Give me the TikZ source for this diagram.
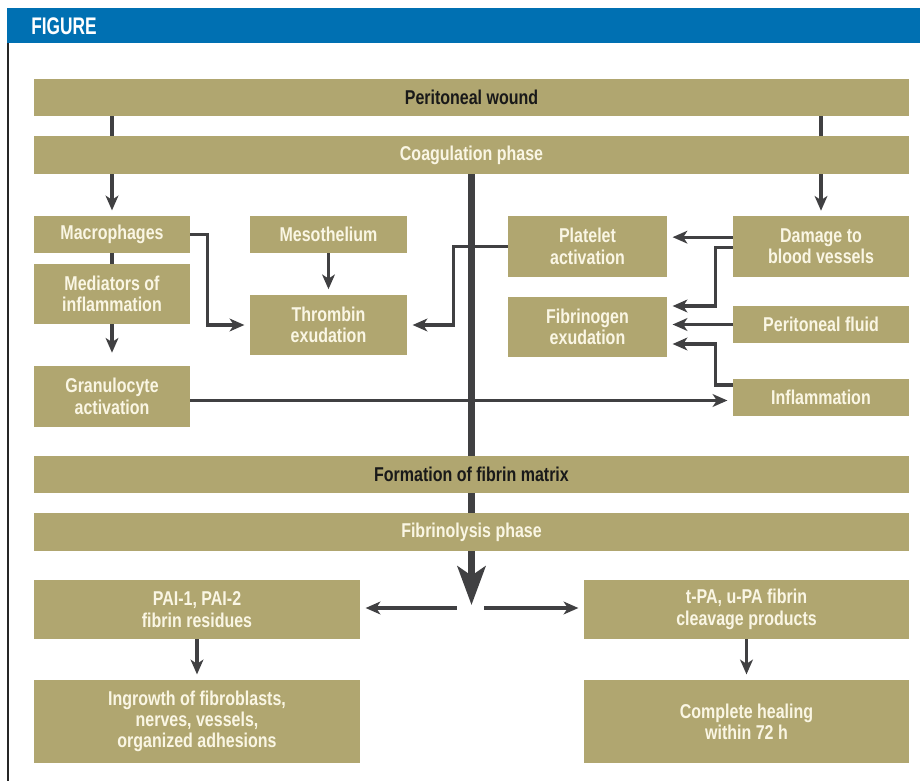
\documentclass[tikz,border=0pt]{standalone}
\usepackage{fontspec}
\setmainfont{Liberation Sans}[FakeStretch=0.8]
\newfontfamily\headfont{Liberation Sans}[FakeStretch=0.72]
\usetikzlibrary{arrows.meta, positioning}
\usepackage{xcolor}
\definecolor{tan}{RGB}{176,166,112}
\definecolor{cream}{RGB}{250,246,228}
\definecolor{arr}{RGB}{64,64,66}
\definecolor{banner}{RGB}{0,112,178}
\pgfdeclarelayer{background}
\pgfsetlayers{background,main}

\begin{document}
\begin{tikzpicture}[x=0.75pt, y=-0.75pt,
        bar/.style={rectangle, fill=tan, text=cream, minimum width=656.25pt, minimum height=28pt, inner sep=0pt, font=\fontsize{15}{16}\selectfont\bfseries},
        darkbar/.style={bar, text=black!90},
        box/.style={rectangle, fill=tan, text=cream, inner sep=0pt, align=center, font=\fontsize{15}{16}\selectfont\bfseries},
        one/.style={box, minimum height=27.75pt},
        two/.style={box, minimum height=45.25pt},
        three/.style={box, minimum height=62.25pt},
        arrow/.style={-{Stealth[length=11pt, width=9.5pt, inset=3pt]}, line width=2.3pt, color=arr, shorten >=4pt},
        link/.style={line width=2.3pt, color=arr},
        trunk/.style={-{Stealth[length=29pt, width=21pt, inset=7pt]}, line width=5pt, color=arr}
    ]
        % Page and banner
        \useasboundingbox (0,0) rectangle (920,781);
        \fill[banner] (7,8) rectangle (920,43);
        \node[anchor=west, inner sep=0pt, text=white, font=\fontsize{18}{20}\selectfont\headfont\bfseries] (title) at (31,26) {FIGURE};
        \draw[line width=1.5pt, black!85] (8,43) -- (8,781);

        % Phases
        \node[darkbar] (wound) at (471.5, 97.5) {Peritoneal wound};
        \node[bar] (coag) at (471.5, 155) {Coagulation phase};

        % Left column
        \node[one, minimum width=117pt] (macro) at (112, 234.5) {Macrophages};
        \node[two, minimum width=117pt] (medi) at (112, 294) {Mediators of\\inflammation};
        \node[two, minimum width=117pt] (gran) at (112, 396.5) {Granulocyte\\activation};

        % Thrombin
        \node[one, minimum width=117.75pt] (meso) at (328.5, 234.5) {Mesothelium};
        \node[two, minimum width=117.75pt] (thromb) at (328.5, 325) {Thrombin\\exudation};

        % Platelets and fibrinogen
        \node[two, minimum width=119.25pt] (plat) at (587.5, 246.5) {Platelet\\activation};
        \node[two, minimum width=119.25pt] (fibr) at (587.5, 327) {Fibrinogen\\exudation};

        % Right column
        \node[two, minimum width=132pt] (dmg) at (821, 246.5) {Damage to\\blood vessels};
        \node[one, minimum width=132pt] (fluid) at (821, 324.5) {Peritoneal fluid};
        \node[one, minimum width=132pt] (infl) at (821, 397) {Inflammation};

        % Fibrin matrix and fibrinolysis
        \node[darkbar] (matrix) at (471.5, 474.5) {Formation of fibrin matrix};
        \node[bar] (lysis) at (471.5, 532) {Fibrinolysis phase};

        % Outcomes
        \node[two, minimum width=244.5pt, minimum height=44.25pt] (pai) at (197, 609.5) {PAI-1, PAI-2\\fibrin residues};
        \node[three, minimum width=244.5pt] (ingr) at (197, 721.5) {Ingrowth of fibroblasts,\\nerves, vessels,\\organized adhesions};
        \node[two, minimum width=243.75pt, minimum height=44.25pt] (tpa) at (746.5, 609.5) {t-PA, u-PA fibrin\\cleavage products};
        \node[three, minimum width=243.75pt] (heal) at (746.5, 721.5) {Complete healing\\within 72 h};

        \coordinate (hub) at (471.5, 608);

        % Lines behind the bars
        \begin{pgfonlayer}{background}
            \fill[white] (0,0) rectangle (920,781);
            \draw[arrow] (wound.south -| macro.north) -- (macro.north);
            \draw[arrow] (wound.south -| dmg.north) -- (dmg.north);
            \draw[trunk] (coag.south) -- ([yshift=2.25pt]hub);
        \end{pgfonlayer}

        % Left side
        \draw[link] (macro) -- (medi);
        \draw[arrow, shorten >=10pt] (medi) -- (gran);
        \draw[arrow] (macro.east) -- ++(17,0) |- (thromb.west);
        \draw[arrow] (meso) -- (thromb);
        \draw[arrow] (plat.west) -- ++(-54,0) |- (thromb.east);
        \draw[arrow] ([yshift=-3pt]gran.east) -- ([yshift=-3pt]gran.east -| infl.west);

        % Right side
        \draw[arrow] ([yshift=7pt]dmg.west) -- ([yshift=7pt]plat.east);
        \draw[arrow] ([yshift=-1pt]dmg.west) -- ++(-17,0) |- ([yshift=15.75pt]fibr.east);
        \draw[arrow] (fluid.west) -- (fluid.west -| fibr.east);
        \draw[arrow] ([yshift=9pt]infl.west) -- ++(-17,0) |- ([yshift=-12.75pt]fibr.east);

        % Fibrinolysis outcomes
        \draw[arrow] ([xshift=-11pt]hub) -- (hub -| pai.east);
        \draw[arrow] ([xshift=9.5pt]hub) -- (hub -| tpa.west);
        \draw[arrow] (pai) -- (ingr);
        \draw[arrow] (tpa) -- (heal);
    \end{tikzpicture}
\end{document}
